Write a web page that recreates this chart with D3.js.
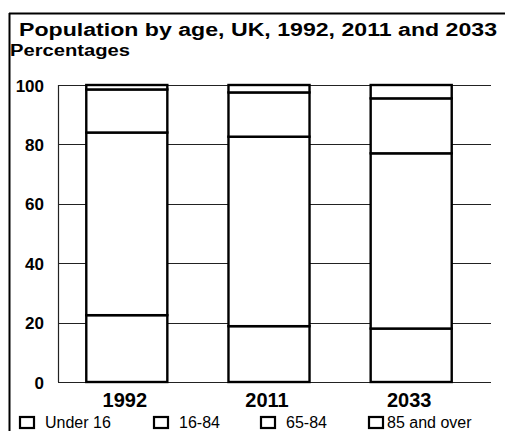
<!DOCTYPE html>
<html>
<head>
<meta charset="utf-8">
<script src="https://cdn.jsdelivr.net/npm/d3@7"></script>
<style>
  html, body { margin: 0; padding: 0; background: #fff; }
  svg { display: block; font-family: "Liberation Sans", Arial, sans-serif; }
</style>
</head>
<body>
<div id="chart"></div>
<script>
// chart values
const years = ['1992', '2011', '2033'];
const ageGroups = ['Under 16', '16-64', '65-84', '85 and over'];
const legendLabels = ['Under 16', '16-84', '65-84', '85 and over'];
const under16 = [22.5, 18.8, 18.0];
const age16to64 = [61.5, 63.8, 59.0];
const age65to84 = [14.5, 14.9, 18.5];
const age85plus = [1.5, 2.5, 4.5];
const yTicks = [0, 20, 40, 60, 80, 100];

const width = 505;
const height = 431;

const svg = d3.select('#chart')
  .append('svg')
  .attr('width', width)
  .attr('height', height);

// outer frame (top + left edge only, like the scan)
svg.append('line')
  .attr('x1', 9).attr('x2', width).attr('y1', 13.5).attr('y2', 13.5)
  .attr('stroke', '#000').attr('stroke-width', 2);
svg.append('line')
  .attr('x1', 9.5).attr('x2', 9.5).attr('y1', 13).attr('y2', height)
  .attr('stroke', '#000').attr('stroke-width', 2);

// titles
svg.append('text')
  .attr('x', 19).attr('y', 36)
  .attr('textLength', 478)
  .attr('lengthAdjust', 'spacingAndGlyphs')
  .style('font-size', '18px')
  .style('font-weight', 'bold')
  .text('Population by age, UK, 1992, 2011 and 2033');

svg.append('text')
  .attr('x', 10).attr('y', 56)
  .attr('textLength', 120)
  .attr('lengthAdjust', 'spacingAndGlyphs')
  .style('font-size', '16px')
  .style('font-weight', 'bold')
  .text('Percentages');

// scales
const x = d3.scaleBand()
  .domain(years)
  .range([55, 483])
  .paddingInner(0.43)
  .paddingOuter(0.22);

const y = d3.scaleLinear()
  .domain([0, 100])
  .range([382, 85]);

const plotLeft = 58;
const plotRight = 491;

// gridlines
svg.append('g')
  .selectAll('line')
  .data(yTicks)
  .join('line')
  .attr('x1', plotLeft)
  .attr('x2', plotRight)
  .attr('y1', d => Math.round(y(d)) + 0.5)
  .attr('y2', d => Math.round(y(d)) + 0.5)
  .attr('stroke', '#222')
  .attr('stroke-width', 1.2);

// left axis line
svg.append('line')
  .attr('x1', plotLeft + 0.5).attr('x2', plotLeft + 0.5)
  .attr('y1', y(100)).attr('y2', y(0))
  .attr('stroke', '#222')
  .attr('stroke-width', 1.2);

// y tick labels
svg.append('g')
  .selectAll('text')
  .data(yTicks)
  .join('text')
  .attr('x', 44)
  .attr('y', d => y(d) + 1)
  .attr('text-anchor', 'end')
  .attr('dominant-baseline', 'central')
  .style('font-size', '17px')
  .style('font-weight', 'bold')
  .text(d => d);

// stacked bars
const rows = years.map((yr, i) => ({
  year: yr,
  'Under 16': under16[i],
  '16-64': age16to64[i],
  '65-84': age65to84[i],
  '85 and over': age85plus[i]
}));

const stacked = d3.stack().keys(ageGroups)(rows);

const layers = svg.append('g')
  .selectAll('g')
  .data(stacked)
  .join('g');

layers.selectAll('rect')
  .data(d => d)
  .join('rect')
  .attr('x', d => x(d.data.year))
  .attr('width', x.bandwidth())
  .attr('y', d => y(d[1]))
  .attr('height', d => y(d[0]) - y(d[1]))
  .attr('fill', '#fff')
  .attr('stroke', '#000')
  .attr('stroke-width', 2.4);

// x labels
svg.append('g')
  .selectAll('text')
  .data(years)
  .join('text')
  .attr('x', d => x(d) + x.bandwidth() / 2 - 2)
  .attr('y', 407)
  .attr('text-anchor', 'middle')
  .style('font-size', '20px')
  .style('font-weight', 'bold')
  .text(d => d);

// legend
const legendX = [19, 153, 260, 368];
const legend = svg.append('g')
  .selectAll('g')
  .data(legendLabels)
  .join('g')
  .attr('transform', (d, i) => `translate(${legendX[i]},0)`);

legend.append('rect')
  .attr('x', 1).attr('y', 417)
  .attr('width', 14).attr('height', 11)
  .attr('fill', '#fff')
  .attr('stroke', '#000')
  .attr('stroke-width', 2.2);

legend.append('text')
  .attr('x', (d, i) => i === 3 ? 19 : 26)
  .attr('y', 428)
  .style('font-size', '16px')
  .text(d => d);
</script>
</body>
</html>
